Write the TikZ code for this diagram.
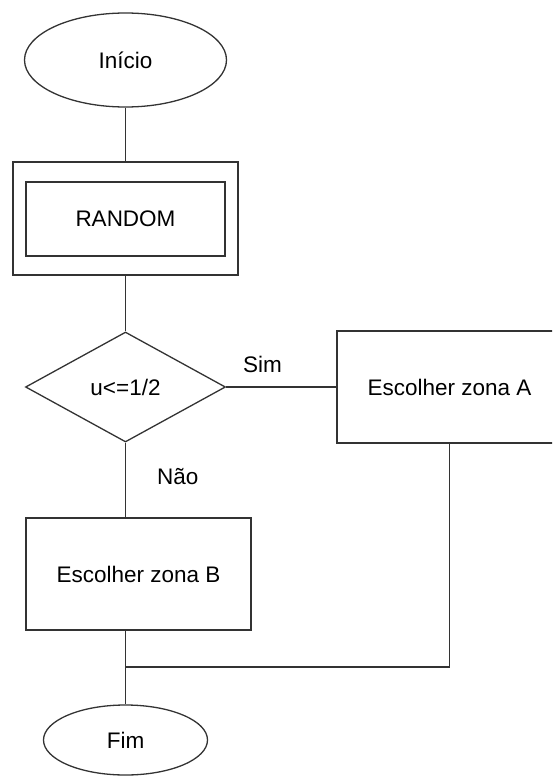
\documentclass[tikz,border=0pt]{standalone}
\usepackage{fontspec}
\setmainfont{Liberation Sans}
\usetikzlibrary{positioning,shapes.geometric}
\definecolor{Ink}{HTML}{333333}

\tikzset{
  base/.style={draw=Ink,line width=1.3pt,font=\fontsize{22.5}{27}\selectfont,inner sep=0pt},
  terminal/.style={base,ellipse},
  process/.style={base,rectangle,minimum width=225pt,minimum height=112pt},
  decision/.style={base,diamond,minimum width=200pt,minimum height=110pt},
  link/.style={draw=Ink,line width=1.3pt},
  tag/.style={font=\fontsize{22.5}{27}\selectfont,inner sep=0pt}
}

\begin{document}
\begin{tikzpicture}[x=1pt,y=-1pt]
  \clip (0,0) rectangle (552,776);
  \node[terminal,minimum width=202pt,minimum height=94pt] (inicio) at (125.5,60) {Início};
  \node[process,minimum height=113pt] (random) at (125.5,218.5) {};
  \node[base,minimum width=199pt,minimum height=74pt] (randomin) at (125.5,219) {RANDOM};
  \node[decision] (cond) at (125.5,387) {u<=1/2};
  \node[process] (zonaA) at (449.5,387) {Escolher zona A};
  \node[process] (zonaB) at (138.5,574) {Escolher zona B};
  \node[terminal,minimum width=164pt,minimum height=70pt] (fim) at (125.5,740) {Fim};
  \coordinate (merge) at (125.5,667);

  \draw[link] (inicio) -- (random);
  \draw[link] (random) -- (cond);
  \draw[link] (cond) -- node[tag,pos=0.33,above=14pt]{Sim} (zonaA);
  \draw[link] (cond) -- node[tag,pos=0.45,right=31pt]{Não} (zonaB.north -| cond.south);
  \draw[link] (zonaB.south -| cond.south) -- (fim);
  \draw[link] (zonaA) |- (merge);
\end{tikzpicture}
\end{document}
